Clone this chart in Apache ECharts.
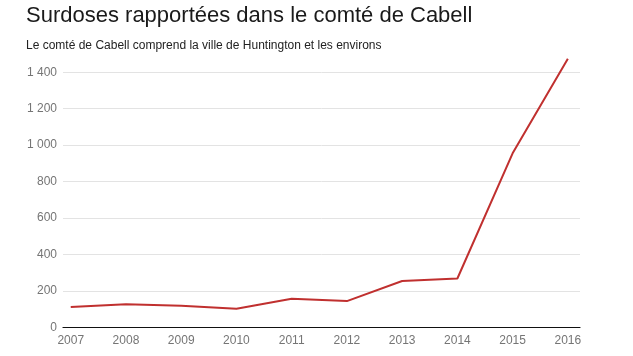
<!DOCTYPE html>
<html>
<head>
<meta charset="utf-8">
<script src="https://cdn.jsdelivr.net/npm/echarts@6/dist/echarts.min.js"></script>
<style>
html,body{margin:0;padding:0;background:#fff;}
#c{width:633px;height:356px;}
</style>
</head>
<body>
<div id="c"></div>
<script>
var years = [2007, 2008, 2009, 2010, 2011, 2012, 2013, 2014, 2015, 2016];
var overdoses = [111, 126, 118, 102, 157, 144, 254, 268, 955, 1475];
var yTicks = [0, 200, 400, 600, 800, 1000, 1200, 1400];
var titleText = 'Surdoses rapportées dans le comté de Cabell';
var subtitleText = 'Le comté de Cabell comprend la ville de Huntington et les environs';

var chart = echarts.init(document.getElementById('c'));
var pts = years.map(function (y, i) { return [y, overdoses[i]]; });
function fmt(v) {
  return String(v).replace(/\B(?=(\d{3})+(?!\d))/g, ' ');
}
chart.setOption({
  animation: false,
  textStyle: { fontFamily: 'Liberation Sans, Arial, sans-serif' },
  title: {
    text: titleText,
    subtext: subtitleText,
    left: 21,
    top: 0,
    itemGap: 13,
    textStyle: { fontSize: 22, fontWeight: 'normal', color: '#1a1a1a', fontFamily: 'Liberation Sans, Arial, sans-serif' },
    subtextStyle: { fontSize: 12, color: '#222', fontFamily: 'Liberation Sans, Arial, sans-serif' }
  },
  grid: { left: 63, right: 53, top: 72.3, bottom: 28.7, containLabel: false },
  xAxis: {
    type: 'value',
    min: 2006.86,
    max: 2016.22,
    splitLine: { show: false },
    axisTick: { show: false },
    axisLine: { show: true, lineStyle: { color: '#111', width: 1.2 } },
    axisLabel: {
      customValues: years,
      color: '#757575',
      fontSize: 12,
      margin: 7,
      formatter: function (v) { return String(v); }
    }
  },
  yAxis: {
    type: 'value',
    min: 0,
    max: 1400,
    interval: 200,
    axisLine: { show: false },
    axisTick: { show: false },
    splitLine: { lineStyle: { color: '#e3e3e3', width: 1 } },
    axisLabel: {
      customValues: yTicks,
      color: '#757575',
      fontSize: 12,
      margin: 6,
      formatter: function (v) { return fmt(v); }
    }
  },
  series: [{
    type: 'line',
    data: pts,
    clip: false,
    showSymbol: false,
    symbol: 'none',
    lineStyle: { color: '#c0302f', width: 2 }
  }]
});
</script>
</body>
</html>
